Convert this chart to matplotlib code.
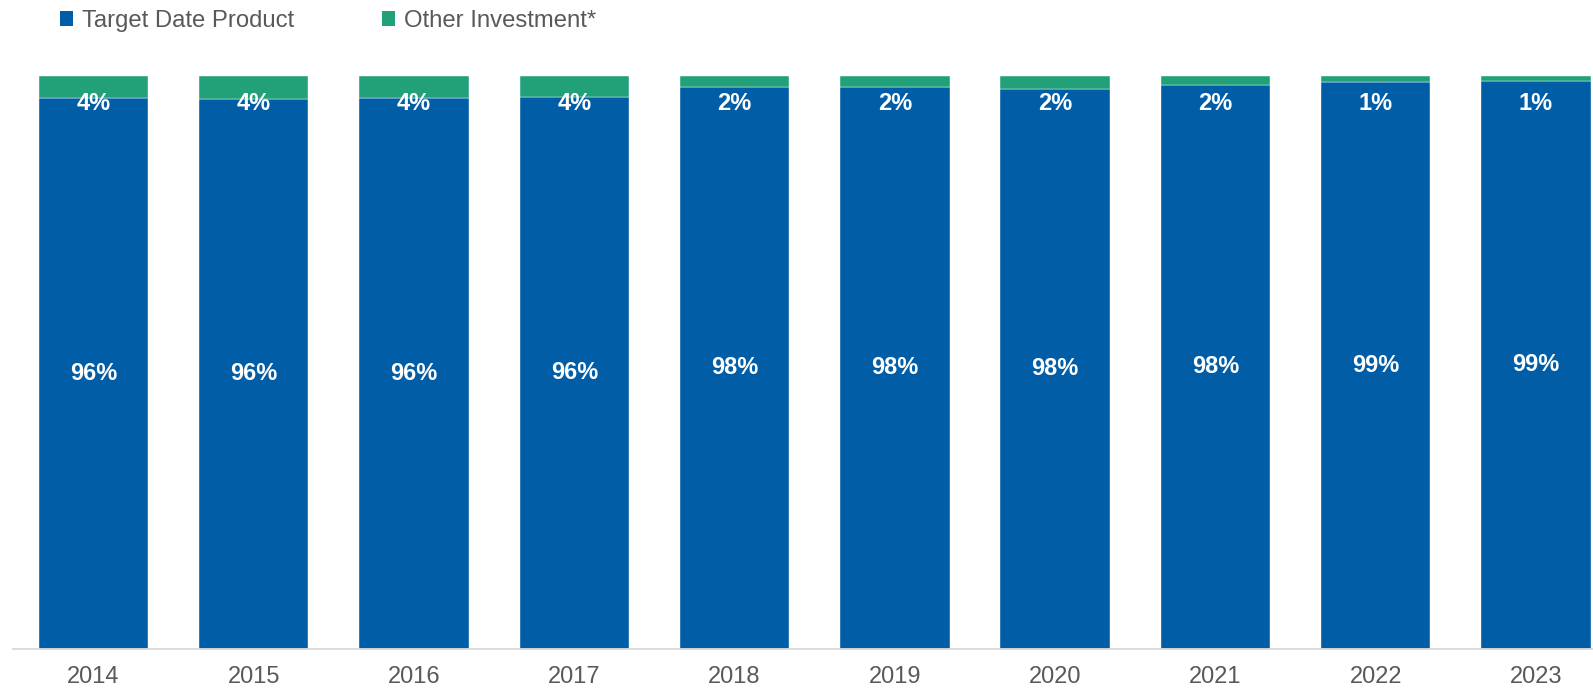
import matplotlib
matplotlib.use("Agg")
import matplotlib.pyplot as plt
from matplotlib.patches import Patch
import numpy as np

years = ["2014", "2015", "2016", "2017", "2018", "2019", "2020", "2021", "2022", "2023"]
other_investment = [4.0, 4.05, 4.0, 3.7, 1.95, 1.95, 2.4, 1.6, 1.2, 0.9]
target_date = [100 - v for v in other_investment]
target_labels = ["96%", "96%", "96%", "96%", "98%", "98%", "98%", "98%", "99%", "99%"]
other_labels = ["4%", "4%", "4%", "4%", "2%", "2%", "2%", "2%", "1%", "1%"]

BLUE = "#005DA6"
GREEN = "#21A07A"
GRAY = "#595959"

plt.rcParams["font.family"] = ["Liberation Sans", "DejaVu Sans"]

fig = plt.figure(figsize=(15.93, 6.90), dpi=100)
ax = fig.add_axes([13.3 / 1593, 1 - 648.7 / 690, 1 - 13.3 / 1593, (648.7 - 75.5) / 690])

x = np.arange(len(years))
w = 0.683
ax.bar(x, target_date, width=w, color=BLUE, edgecolor="white", linewidth=0.3)
ax.bar(x, other_investment, width=w, bottom=target_date, color=GREEN, edgecolor="white", linewidth=0.3)

for xi, t, tl, ol in zip(x, target_date, target_labels, other_labels):
    ax.text(xi, t / 2, tl, ha="center", va="center", color="white", fontsize=17, fontweight="bold")
    ax.text(xi, 95.2, ol, ha="center", va="center", color="white", fontsize=17, fontweight="bold")

ax.set_xlim(-0.5, 9 + (1593 - 1536) / 160.3)
ax.set_ylim(0, 100)
ax.set_xticks(x)
ax.set_xticklabels(years, fontsize=17, color=GRAY)
ax.tick_params(axis="x", length=0, pad=12.5)
ax.set_yticks([])
for s in ["top", "right", "left"]:
    ax.spines[s].set_visible(False)
ax.spines["bottom"].set_color("#D9D9D9")
ax.spines["bottom"].set_linewidth(1.3)

handles = [Patch(facecolor=BLUE, edgecolor="none"), Patch(facecolor=GREEN, edgecolor="none")]
fig.legend(handles, ["Target Date Product", "Other Investment*"], loc="upper left",
           bbox_to_anchor=(60 / 1593, 1 - 10 / 690), ncol=2, frameon=False, fontsize=17.2,
           handlelength=0.53, handleheight=0.53, handletextpad=0.38, columnspacing=3.7,
           labelcolor=GRAY, borderpad=0, borderaxespad=0)

fig.savefig("out.png", dpi=100)
